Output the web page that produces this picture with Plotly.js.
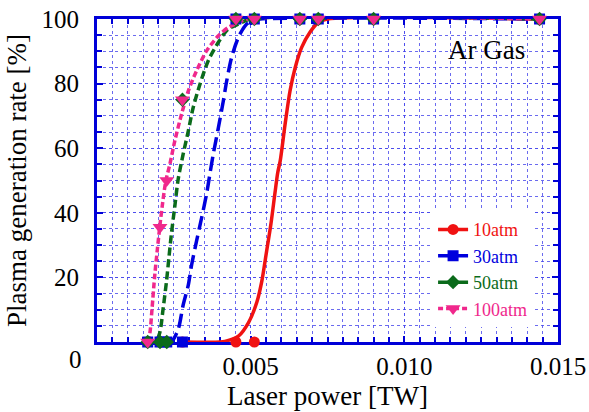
<!DOCTYPE html>
<html><head><meta charset="utf-8">
<script src="https://cdn.plot.ly/plotly-3.0.1.min.js"></script>
<style>html,body{margin:0;padding:0;background:#fff}</style>
</head><body><div id="chart" style="width:589px;height:412px"></div>
<script>
// ---- data ----
const seriesNames = ['10atm', '30atm', '50atm', '100atm'];
const powerTW = [0.00165, 0.00205, 0.00227, 0.00278, 0.00452, 0.00512, 0.0066, 0.0072, 0.009, 0.0144];
const rate10 = [0, 0, 0, 0, 0, 0, 100, 100, 100, 100];
const rate30 = [0, 0, 0, 0, 100, 100, 100, 100, 100, 100];
const rate50 = [0, 0, 0, 75, 100, 100, 100, 100, 100, 100];
const rate100 = [0, 35.5, 50, 75, 100, 100, 100, 100, 100, 100];

// fitted curves
const fit10x = [0.00278, 0.0040, 0.00416, 0.0046, 0.00493, 0.0052, 0.00536, 0.00552, 0.00566, 0.00579, 0.00588, 0.00596, 0.00612, 0.00628, 0.00645, 0.00666, 0.00693, 0.00721, 0.0075, 0.0144];
const fit10y = [0, 0, 0.2, 1.8, 6, 12.3, 18.7, 28.2, 36.6, 46.1, 52.4, 56, 67.4, 77.7, 85, 91.2, 95.9, 99, 100, 100];
const fit30x = [0.00165, 0.0024, 0.00264, 0.0028, 0.00297, 0.00308, 0.00324, 0.00341, 0.00357, 0.00368, 0.00378, 0.00395, 0.00411, 0.00422, 0.00438, 0.0046, 0.00482, 0.00503, 0.0053, 0.0144];
const fit30y = [0, 0, 3.9, 11.3, 17.6, 23.9, 31.3, 38.7, 46.1, 52.4, 58, 66.4, 74.6, 80.8, 88.1, 94.3, 97.9, 99.5, 100, 100];
const fit50x = [0.00165, 0.0019, 0.00204, 0.00215, 0.00226, 0.00234, 0.00242, 0.00253, 0.00264, 0.0028, 0.00297, 0.00313, 0.00335, 0.00362, 0.00395, 0.00427, 0.0046, 0.005, 0.0144];
const fit50y = [0, 0, 2.8, 10.2, 18.7, 26.1, 33.4, 41.9, 50.3, 58, 65.3, 72.6, 79.8, 87.1, 92.8, 96.9, 98.4, 100, 100];
const fit100x = [0.00164, 0.00172, 0.00179, 0.00188, 0.00197, 0.00204, 0.00212, 0.00221, 0.00226, 0.00237, 0.00253, 0.00275, 0.00297, 0.00324, 0.00357, 0.00395, 0.00427, 0.00449, 0.0049, 0.0144];
const fit100y = [0, 2.8, 10.2, 20.8, 29.2, 35.5, 41.9, 48.2, 50.8, 55, 62.2, 70.5, 77.7, 84, 90.2, 94.8, 97.4, 98.4, 100, 100];

const xTickVals = [0.005, 0.010, 0.015];
const xTickText = ['0.005', '0.010', '0.015'];
const yTickVals = [20, 40, 60, 80, 100];
const yTickText = ['20', '40', '60', '80', '100'];

// ---- styles ----
const colors = ['#f01212', '#0000dd', '#0b6b1b', '#f0288c'];
const dashes = ['solid', '14px,6px', '8px,4px', '6px,3px'];
const legendDashes = ['solid', 'solid', 'solid', '5px,3px'];
const symbols = ['circle', 'square', 'diamond', 'triangle-down'];
const msizes = [11, 11, 11, 13];
const serif = '"Liberation Serif", "Times New Roman", Times, serif';
const axisBlue = '#0000d8';
const gridCol = 'rgba(70,70,235,0.8)';

const fitsX = [fit10x, fit30x, fit50x, fit100x];
const fitsY = [fit10y, fit30y, fit50y, fit100y];
const rates = [rate10, rate30, rate50, rate100];

const traces = [];
for (let i = 0; i < 4; i++) {
  traces.push({
    x: fitsX[i], y: fitsY[i], type: 'scatter', mode: 'lines',
    line: {color: colors[i], width: 3.5, dash: dashes[i], shape: 'spline', smoothing: 0.8},
    showlegend: false, hoverinfo: 'skip'
  });
}
for (let i = 0; i < 4; i++) {
  traces.push({
    x: powerTW, y: rates[i], type: 'scatter', mode: 'markers',
    marker: {color: colors[i], symbol: symbols[i], size: msizes[i]},
    cliponaxis: false, showlegend: false
  });
}
for (let i = 0; i < 4; i++) {
  traces.push({
    x: [null], y: [null], type: 'scatter', mode: 'lines+markers',
    name: '<span style="color:' + colors[i] + '">' + seriesNames[i] + '</span>',
    line: {color: colors[i], width: 3.5, dash: legendDashes[i]},
    marker: {color: colors[i], symbol: symbols[i], size: msizes[i]}
  });
}

function axisCommon() {
  return {
    showline: true, linecolor: axisBlue, linewidth: 3, mirror: 'allticks',
    ticks: 'inside', ticklen: 6, tickwidth: 2, tickcolor: axisBlue,
    showgrid: true, gridcolor: gridCol, gridwidth: 1, griddash: 'dot',
    zeroline: false, layer: 'below traces',
    tickfont: {family: serif, size: 25, color: '#000'},
    title: {font: {family: serif, size: 27, color: '#000'}}
  };
}

const xaxis = Object.assign(axisCommon(), {
  range: [0, 0.015], tickmode: 'array', tickvals: xTickVals, ticktext: xTickText,
  ticklabelstandoff: 0,
  minor: {tick0: 0, dtick: 0.0005, showgrid: true, gridcolor: gridCol, gridwidth: 1, griddash: 'dot',
          ticks: 'inside', ticklen: 5, tickwidth: 2, tickcolor: axisBlue}
});
xaxis.title.text = 'Laser power [TW]';
xaxis.title.standoff = 8;

const yaxis = Object.assign(axisCommon(), {
  range: [0, 100], tickmode: 'array', tickvals: yTickVals, ticktext: yTickText,
  ticklabelstandoff: 10,
  minor: {tick0: 0, dtick: 5, showgrid: true, gridcolor: gridCol, gridwidth: 1, griddash: 'dot',
          ticks: 'inside', ticklen: 5, tickwidth: 2, tickcolor: axisBlue}
});
yaxis.title.text = 'Plasma generation rate [%]';
yaxis.title.standoff = 8;

const layout = {
  width: 589, height: 412,
  margin: {l: 97, r: 31, t: 19, b: 70},
  paper_bgcolor: '#fff', plot_bgcolor: '#fff',
  font: {family: serif},
  xaxis: xaxis, yaxis: yaxis,
  showlegend: true,
  legend: {x: 0.729, y: 0.405, xanchor: 'left', yanchor: 'top', bgcolor: '#fff',
           borderwidth: 0, font: {family: serif, size: 18}, tracegroupgap: 0},
  annotations: [
    {text: 'Ar Gas', xref: 'paper', yref: 'paper', x: 0.844, y: 0.904,
     xanchor: 'center', yanchor: 'middle', showarrow: false,
     font: {family: serif, size: 27, color: '#000'}},
    {text: '0', xref: 'paper', yref: 'paper', x: -0.0477, y: -0.0557,
     xanchor: 'center', yanchor: 'middle', showarrow: false,
     font: {family: serif, size: 25, color: '#000'}}
  ]
};

Plotly.newPlot('chart', traces, layout, {displayModeBar: false, staticPlot: true});
</script>
</body></html>
